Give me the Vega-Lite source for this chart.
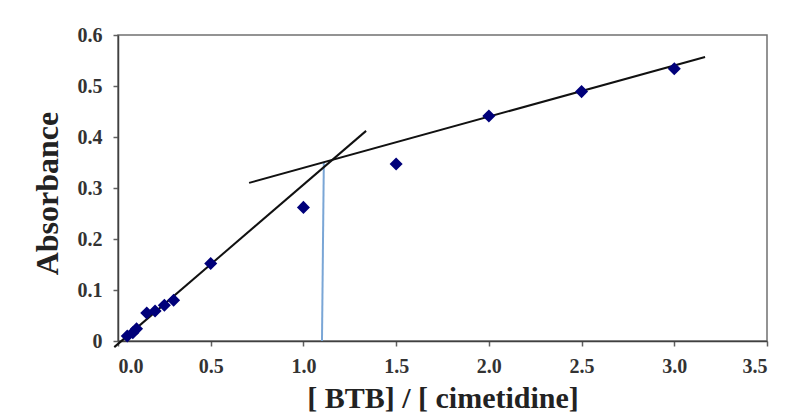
{
  "$schema": "https://vega.github.io/schema/vega-lite/v6.json",
  "width": 649,
  "height": 306,
  "autosize": "none",
  "padding": {"left": 118, "top": 35, "right": 20, "bottom": 75},
  "background": "white",
  "config": {
    "view": {"stroke": "#707070", "strokeWidth": 1.5},
    "axis": {
      "labelFont": "Liberation Serif",
      "labelFontWeight": "bold",
      "labelFontSize": 20,
      "labelColor": "#333333",
      "titleFont": "Liberation Serif",
      "titleFontWeight": "bold",
      "titleColor": "#222222",
      "grid": false,
      "domainColor": "#404040",
      "domainWidth": 1.5,
      "tickColor": "#606060",
      "tickSize": 5,
      "tickWidth": 1.5
    }
  },
  "datasets": {
    "points": [
      {"ratio": 0.05, "abs": 0.01},
      {"ratio": 0.08, "abs": 0.016},
      {"ratio": 0.1, "abs": 0.024},
      {"ratio": 0.155, "abs": 0.055},
      {"ratio": 0.2, "abs": 0.059},
      {"ratio": 0.25, "abs": 0.07},
      {"ratio": 0.3, "abs": 0.08},
      {"ratio": 0.5, "abs": 0.152},
      {"ratio": 1.0, "abs": 0.262},
      {"ratio": 1.5, "abs": 0.347},
      {"ratio": 2.0, "abs": 0.441},
      {"ratio": 2.5, "abs": 0.489},
      {"ratio": 3.0, "abs": 0.534}
    ],
    "fits": [
      {"line": "a", "ratio": -0.02, "abs": -0.012},
      {"line": "a", "ratio": 1.338, "abs": 0.412},
      {"line": "b", "ratio": 0.707, "abs": 0.31},
      {"line": "b", "ratio": 3.166, "abs": 0.557}
    ],
    "drop": [
      {"ratio": 1.1, "abs": 0},
      {"ratio": 1.11, "abs": 0.35}
    ]
  },
  "layer": [
    {
      "data": {"name": "drop"},
      "mark": {"type": "line", "color": "#7aa6d6", "strokeWidth": 2},
      "encoding": {
        "x": {"field": "ratio", "type": "quantitative"},
        "y": {"field": "abs", "type": "quantitative"}
      }
    },
    {
      "data": {"name": "fits"},
      "mark": {"type": "line", "color": "#111111", "strokeWidth": 2},
      "encoding": {
        "x": {"field": "ratio", "type": "quantitative"},
        "y": {"field": "abs", "type": "quantitative"},
        "detail": {"field": "line"}
      }
    },
    {
      "data": {"name": "points"},
      "mark": {"type": "point", "shape": "diamond", "filled": true, "color": "#00007a", "size": 170, "opacity": 1},
      "encoding": {
        "x": {
          "field": "ratio",
          "type": "quantitative",
          "scale": {"domain": [0, 3.5], "nice": false},
          "axis": {
            "values": [0, 0.5, 1, 1.5, 2, 2.5, 3, 3.5],
            "format": ".1f",
            "labelPadding": 10,
            "title": "[ BTB] / [ cimetidine]",
            "titleFontSize": 30,
            "titleY": 66,
            "titleBaseline": "alphabetic"
          }
        },
        "y": {
          "field": "abs",
          "type": "quantitative",
          "scale": {"domain": [0, 0.6], "nice": false},
          "axis": {
            "values": [0, 0.1, 0.2, 0.3, 0.4, 0.5, 0.6],
            "labelExpr": "datum.value == 0 ? '0' : format(datum.value, '.1f')",
            "labelPadding": 11,
            "title": "Absorbance",
            "titleFontSize": 32,
            "titleX": -71,
            "titleY": 158,
            "titleBaseline": "middle"
          }
        }
      }
    }
  ]
}
